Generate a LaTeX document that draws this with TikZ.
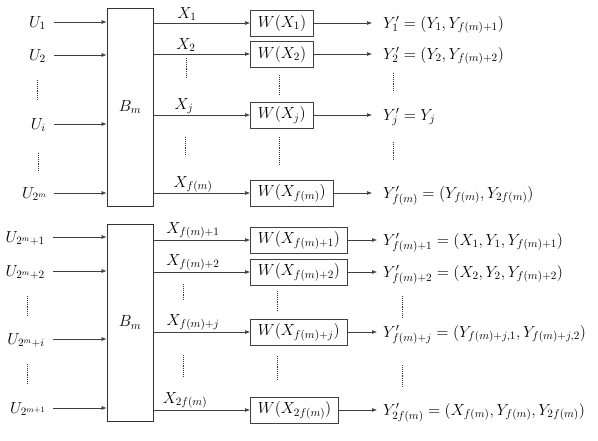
\documentclass[tikz,border=0pt]{standalone}
\usepackage{fix-cm}
\usetikzlibrary{arrows.meta}
\newcommand{\dfont}{\fontsize{16}{19}\selectfont}
\begin{document}
\begin{tikzpicture}[x=1pt,y=-1pt,
  arr/.style={draw=black!75, line width=0.6pt, -{Latex[length=5pt,width=4pt]}},
  lbl/.style={inner sep=0pt, font=\dfont},
  wbox/.style={draw=black!75, line width=0.7pt, minimum height=26pt, inner xsep=7.5pt, inner ysep=0pt, anchor=west, font=\dfont},
  bbox/.style={draw=black!80, line width=0.8pt, minimum width=46pt, font=\dfont},
  vd/.style={draw=black!80, densely dotted, line width=0.9pt}]
\useasboundingbox (0,0) rectangle (598,440);
% ---------------- top block ----------------
\node[bbox, minimum height=198pt] (B1) at (130,107) {$B_m$};
% inputs
\node[lbl, anchor=base east] (u1) at (46,27) {$U_1$};
\node[lbl, anchor=base east] (u2) at (46,60) {$U_2$};
\node[lbl, anchor=base east] (ui) at (46,129) {$U_i$};
\node[lbl, anchor=base east] (um) at (47,198) {$U_{2^m}$};
\coordinate (u1s) at (54,22);
\coordinate (u2s) at (54,55);
\coordinate (uis) at (54,124);
\coordinate (ums) at (54,193);
\draw[arr] (u1s) -- (u1s -| B1.west);
\draw[arr] (u2s) -- (u2s -| B1.west);
\draw[arr] (uis) -- (uis -| B1.west);
\draw[arr] (ums) -- (ums -| B1.west);
\draw[vd] (37,80) -- (37,100);
\draw[vd] (38,153) -- (38,172);
% W boxes
\node[wbox] (w1) at (250,23) {$W(X_1)$};
\node[wbox] (w2) at (250,54) {$W(X_2)$};
\node[wbox] (wj) at (250,115) {$W(X_j)$};
\node[wbox] (wf) at (250,193) {$W(X_{f(m)})$};
\draw[arr] (w1.west -| B1.east) -- (w1.west);
\draw[arr] (w2.west -| B1.east) -- (w2.west);
\draw[arr] (wj.west -| B1.east) -- (wj.west);
\draw[arr] (wf.west -| B1.east) -- (wf.west);
\node[lbl, anchor=base] (x1) at (187,18) {$X_1$};
\node[lbl, anchor=base] (x2) at (186,49) {$X_2$};
\node[lbl, anchor=base] (xj) at (184,109) {$X_j$};
\node[lbl, anchor=base] (xf) at (193,187) {$X_{f(m)}$};
\draw[vd] (186,58) -- (186,78);
\draw[vd] (185,137) -- (185,156);
\draw[vd] (279,75) -- (279,95);
\draw[vd] (279,137) -- (279,165);
% outputs
\node[lbl, anchor=base west] (y1) at (383,28) {$Y'_1=(Y_1,Y_{f(m)+1})$};
\node[lbl, anchor=base west] (y2) at (383,59) {$Y'_2=(Y_2,Y_{f(m)+2})$};
\node[lbl, anchor=base west] (yj) at (383,120) {$Y'_j=Y_j$};
\node[lbl, anchor=base west] (yf) at (383,198) {$Y'_{f(m)}=(Y_{f(m)},Y_{2f(m)})$};
\coordinate (e1) at (372,23);
\coordinate (e2) at (372,54);
\coordinate (ej) at (372,115);
\coordinate (ef) at (372,193);
\draw[arr] (w1.east) -- (e1);
\draw[arr] (w2.east) -- (e2);
\draw[arr] (wj.east) -- (ej);
\draw[arr] (wf.east) -- (ef);
\draw[vd] (393,73) -- (393,92);
\draw[vd] (393,142) -- (393,161);
% ---------------- bottom block ----------------
\node[bbox, minimum height=197pt] (B2) at (130,322.5) {$B_m$};
\node[lbl, anchor=base east] (v1) at (45,242) {$U_{2^m+1}$};
\node[lbl, anchor=base east] (v2) at (45,276) {$U_{2^m+2}$};
\node[lbl, anchor=base east] (vi) at (45,344) {$U_{2^m+i}$};
\node[lbl, anchor=base east] (vm) at (46,413) {$U_{2^{m+1}}$};
\coordinate (v1s) at (53,237);
\coordinate (v2s) at (53,271);
\coordinate (vis) at (53,339);
\coordinate (vms) at (53,408);
\draw[arr] (v1s) -- (v1s -| B2.west);
\draw[arr] (v2s) -- (v2s -| B2.west);
\draw[arr] (vis) -- (vis -| B2.west);
\draw[arr] (vms) -- (vms -| B2.west);
\draw[vd] (27,296) -- (27,316);
\draw[vd] (27,364) -- (27,384);
\node[wbox] (wa) at (250,240) {$W(X_{f(m)+1})$};
\node[wbox] (wb) at (250,272) {$W(X_{f(m)+2})$};
\node[wbox] (wc) at (250,332) {$W(X_{f(m)+j})$};
\node[wbox] (wd) at (250,410) {$W(X_{2f(m)})$};
\draw[arr] (wa.west -| B2.east) -- (wa.west);
\draw[arr] (wb.west -| B2.east) -- (wb.west);
\draw[arr] (wc.west -| B2.east) -- (wc.west);
\draw[arr] (wd.west -| B2.east) -- (wd.west);
\node[lbl, anchor=base] (xa) at (193,233) {$X_{f(m)+1}$};
\node[lbl, anchor=base] (xb) at (193,265) {$X_{f(m)+2}$};
\node[lbl, anchor=base] (xc) at (193,325) {$X_{f(m)+j}$};
\node[lbl, anchor=base] (xd) at (185,403) {$X_{2f(m)}$};
\draw[vd] (183,284) -- (183,300);
\draw[vd] (183,355) -- (183,376);
\draw[vd] (277,291) -- (277,311);
\draw[vd] (277,356) -- (277,380);
\node[lbl, anchor=base west] (ya) at (383,245) {$Y'_{f(m)+1}=(X_1,Y_1,Y_{f(m)+1})$};
\node[lbl, anchor=base west] (yb) at (383,277) {$Y'_{f(m)+2}=(X_2,Y_2,Y_{f(m)+2})$};
\node[lbl, anchor=base west] (yc) at (383,337) {$Y'_{f(m)+j}=(Y_{f(m)+j,1},Y_{f(m)+j,2})$};
\node[lbl, anchor=base west] (yd) at (383,415) {$Y'_{2f(m)}=(X_{f(m)},Y_{f(m)},Y_{2f(m)})$};
\coordinate (ea) at (377,240);
\coordinate (eb) at (377,272);
\coordinate (ec) at (377,332);
\coordinate (ed) at (377,410);
\draw[arr] (wa.east) -- (ea);
\draw[arr] (wb.east) -- (eb);
\draw[arr] (wc.east) -- (ec);
\draw[arr] (wd.east) -- (ed);
\draw[vd] (402,296) -- (402,318);
\draw[vd] (402,365) -- (402,386);
\end{tikzpicture}
\end{document}
